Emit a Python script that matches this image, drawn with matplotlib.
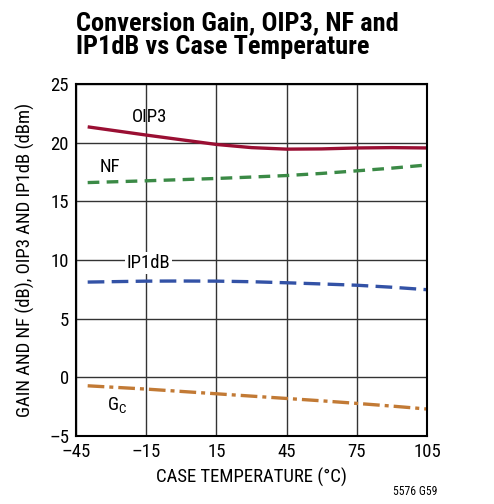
import matplotlib
matplotlib.use("Agg")
import matplotlib.pyplot as plt

# data
temps = [-40, -15, 0, 15, 30, 45, 60, 75, 90, 105]
oip3 = [21.35, 20.65, 20.25, 19.85, 19.58, 19.45, 19.47, 19.55, 19.58, 19.55]
nf = [16.6, 16.75, 16.85, 16.95, 17.07, 17.2, 17.38, 17.6, 17.83, 18.1]
ip1db = [8.12, 8.2, 8.21, 8.2, 8.15, 8.06, 7.96, 7.85, 7.68, 7.47]
gain = [-0.72, -1.0, -1.2, -1.4, -1.6, -1.8, -2.0, -2.22, -2.45, -2.7]

xticks = [-45, -15, 15, 45, 75, 105]
yticks = [-5, 0, 5, 10, 15, 20, 25]

plt.rcParams['font.family'] = ['Roboto Condensed', 'DejaVu Sans']
plt.rcParams['mathtext.fontset'] = 'custom'
plt.rcParams['mathtext.rm'] = 'Roboto Condensed'

fig = plt.figure(figsize=(4.94, 5.04), dpi=100)
ax = fig.add_axes([0.1538, 0.1349, 0.7105, 0.6984])

ax.plot(temps, oip3, color='#9a0f33', lw=2.4, solid_capstyle='butt')
ax.plot(temps, nf, color='#3b8a46', lw=2.4, dashes=(3.5, 2.2))
ax.plot(temps, ip1db, color='#3352a6', lw=2.4, dashes=(5, 2.2))
ax.plot(temps, gain, color='#c27a35', lw=2.4, dashes=(5, 1.5, 1.2, 1.5))

ax.set_xlim(-45, 105)
ax.set_ylim(-5, 25)
ax.set_xticks(xticks)
ax.set_yticks(yticks)
ax.set_xticklabels([str(t).replace('-', '\u2013') for t in xticks])
ax.set_yticklabels([str(t).replace('-', '\u2013') for t in yticks])
ax.tick_params(length=0, labelsize=13.5, pad=5)
ax.grid(True, color='#333333', lw=1.0)
ax.set_axisbelow(True)
for s in ax.spines.values():
    s.set_linewidth(1.5)

ax.set_xlabel('CASE TEMPERATURE (\u00b0C)', fontsize=13.5, labelpad=5)
ax.set_ylabel('GAIN AND NF (dB), OIP3 AND IP1dB (dBm)', fontsize=13.5, labelpad=10)

ax.text(-13.5, 22.2, 'OIP3', fontsize=13.5, ha='center', va='center')
ax.text(-30.5, 17.9, 'NF', fontsize=13.5, ha='center', va='center')
ax.text(-14, 9.75, 'IP1dB', fontsize=13.5, ha='center', va='center',
        bbox=dict(facecolor='white', edgecolor='none', pad=1.5))
ax.text(-27.5, -2.4, r'G$_\mathregular{C}$', fontsize=13.5, ha='center', va='center')

fig.text(0.153, 0.978, 'Conversion Gain, OIP3, NF and\nIP1dB vs Case Temperature',
         fontsize=19, fontweight='bold', ha='left', va='top', linespacing=1.0)
fig.text(0.84, 0.012, '5576 G59', fontsize=8.5, ha='center', va='bottom')

fig.savefig('out.png', dpi=100)
